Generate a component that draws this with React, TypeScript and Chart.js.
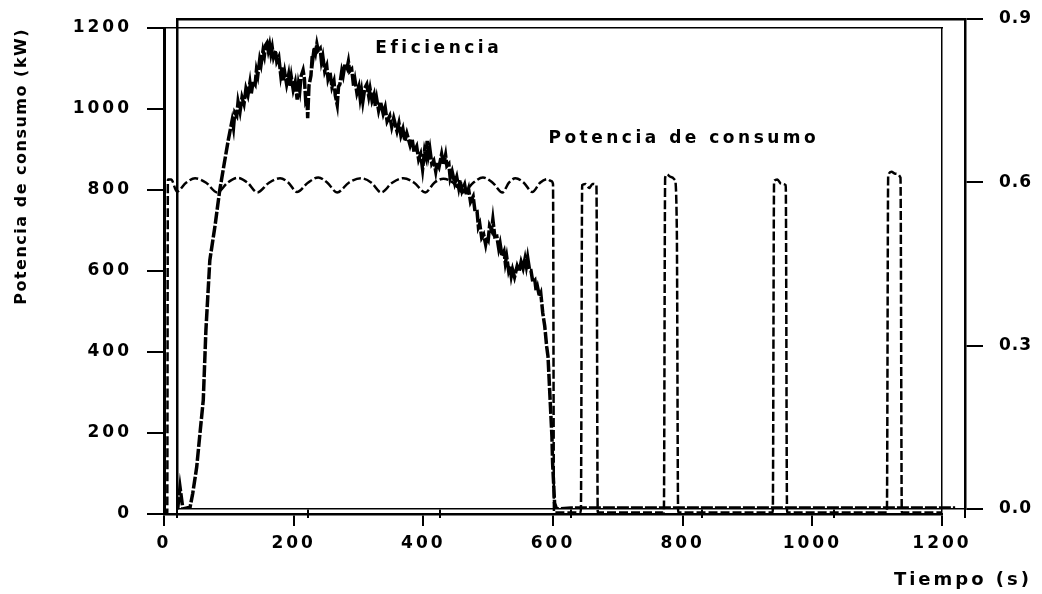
import React, { useEffect, useRef } from 'react';
import { Chart, registerables } from 'chart.js';

Chart.register(...registerables);

// ---------- data ----------
const timeTicks = [0, 200, 400, 600, 800, 1000, 1200];
const powerTicks = [0, 200, 400, 600, 800, 1000, 1200];
const efficiencyTicks = [0, 0.3, 0.6, 0.9];

// Potencia de consumo (kW) vs tiempo (s)
const powerTime = [
  0, 5, 6, 11, 20, 34, 48, 65, 82, 98,
  114, 129, 144, 162, 179, 192, 205, 222, 238, 252,
  267, 285, 304, 320, 335, 352, 369, 386, 403, 417,
  431, 446, 461, 477, 492, 507, 522, 532, 542, 555,
  568, 580, 591, 597, 600, 601.5,
  643, 645, 650, 656, 661, 667, 669,
  771, 773, 776, 781, 788, 791, 793,
  939, 941, 946, 952, 959, 961,
  1115, 1117, 1122, 1128, 1136, 1138,
  1200,
];
const powerValue = [
  0, 0, 826, 826, 796, 818, 829, 818, 794, 818,
  830, 818, 794, 818, 829, 818, 795, 818, 831, 818,
  794, 818, 829, 818, 794, 818, 829, 818, 794, 818,
  828, 818, 794, 818, 831, 818, 794, 818, 829, 818,
  795, 818, 827, 822, 815, 4,
  4, 812, 815, 805, 815, 812, 4,
  4, 830, 838, 833, 825, 700, 4,
  4, 822, 826, 815, 812, 4,
  4, 835, 845, 840, 830, 4,
  4,
];

// Eficiencia vs tiempo (s)
const effTime = [
  1, 4.6, 9, 15, 20, 24, 30, 35, 40, 44,
  50, 58, 65, 72, 78, 84, 86, 88, 91, 93,
  96, 99, 102, 105, 108, 111, 113, 116, 119, 121,
  123, 126, 128, 131, 133, 135, 137, 139, 141, 143,
  145, 147, 150, 152, 155, 158, 160, 162, 164, 167,
  170, 172, 174, 177, 180, 183, 185, 187, 189, 192,
  194, 196, 198, 199, 201, 204, 206, 207, 209, 211,
  213, 215, 218, 220, 222, 225, 228, 230, 233, 236,
  239, 241, 244, 246, 248, 251, 253, 256, 259, 261,
  263, 266, 269, 271, 274, 277, 279, 281, 283, 286,
  289, 292, 294, 297, 300, 302, 304, 307, 310, 314,
  317, 320, 324, 327, 330, 335, 338, 341, 344, 347,
  350, 355, 358, 361, 365, 368, 371, 374, 377, 379,
  381, 383, 385, 388, 391, 394, 396, 399, 403, 406,
  409, 411, 414, 416, 419, 423, 426, 429, 431, 434,
  438, 441, 444, 447, 451, 454, 457, 459, 461, 464,
  467, 470, 472, 474, 476, 479, 481, 484, 487, 490,
  492, 495, 498, 500, 502, 505, 507, 509, 511, 514,
  518, 521, 524, 527, 530, 532, 534, 537, 539, 542,
  545, 547, 549, 552, 554, 557, 560, 563, 565, 568,
  571, 572, 575, 578, 600, 700, 800, 900, 1000, 1100,
  1185,
];
const effValue = [
  0.000, 0.040, 0.000, 0.002, 0.004, 0.029, 0.077, 0.139, 0.200, 0.328,
  0.457, 0.521, 0.585, 0.635, 0.677, 0.714, 0.700, 0.728, 0.722, 0.748,
  0.730, 0.756, 0.744, 0.772, 0.760, 0.783, 0.762, 0.786, 0.780, 0.806,
  0.796, 0.826, 0.816, 0.842, 0.832, 0.852, 0.856, 0.842, 0.853, 0.836,
  0.848, 0.830, 0.842, 0.822, 0.830, 0.797, 0.812, 0.786, 0.802, 0.780,
  0.798, 0.776, 0.794, 0.770, 0.784, 0.752, 0.780, 0.768, 0.795, 0.806,
  0.790, 0.750, 0.756, 0.718, 0.778, 0.796, 0.834, 0.828, 0.848, 0.838,
  0.854, 0.842, 0.846, 0.822, 0.832, 0.804, 0.814, 0.790, 0.802, 0.775,
  0.786, 0.760, 0.742, 0.776, 0.780, 0.805, 0.796, 0.818, 0.810, 0.822,
  0.804, 0.808, 0.776, 0.788, 0.764, 0.776, 0.754, 0.768, 0.748, 0.773,
  0.780, 0.758, 0.772, 0.750, 0.761, 0.740, 0.754, 0.732, 0.748, 0.726,
  0.738, 0.712, 0.722, 0.702, 0.718, 0.694, 0.709, 0.686, 0.698, 0.676,
  0.690, 0.668, 0.680, 0.656, 0.666, 0.642, 0.652, 0.624, 0.658, 0.648,
  0.676, 0.650, 0.662, 0.634, 0.640, 0.620, 0.636, 0.628, 0.652, 0.632,
  0.650, 0.630, 0.634, 0.608, 0.620, 0.598, 0.610, 0.590, 0.604, 0.584,
  0.596, 0.576, 0.588, 0.564, 0.574, 0.545, 0.546, 0.518, 0.524, 0.498,
  0.504, 0.486, 0.500, 0.495, 0.520, 0.512, 0.532, 0.500, 0.501, 0.478,
  0.488, 0.464, 0.473, 0.452, 0.464, 0.438, 0.446, 0.428, 0.440, 0.426,
  0.446, 0.436, 0.454, 0.442, 0.460, 0.446, 0.462, 0.438, 0.438, 0.416,
  0.420, 0.400, 0.408, 0.390, 0.396, 0.360, 0.336, 0.298, 0.280, 0.206,
  0.132, 0.084, 0.011, 0.000, 0.002, 0.002, 0.002, 0.002, 0.002, 0.002,
  0.002,
];

// in-plot labels, anchored in data coordinates (time s, kW)
const seriesLabels = [
  { text: 'Eficiencia', t: 326, kw: 1148 },
  { text: 'Potencia de consumo', t: 593, kw: 926 },
];

// ---------- style ----------
const FONT = "'DejaVu Sans', sans-serif";
const INK = '#000';

// titles are drawn before the datasets, tick labels (z: 1) after them
const spacingPlugin = (titleSpacing: string, tickSpacing: string) => ({
  id: 'letterSpacing',
  beforeDraw(chart: any) {
    chart.ctx.letterSpacing = titleSpacing;
  },
  afterDatasetsDraw(chart: any) {
    chart.ctx.letterSpacing = tickSpacing;
  },
});

const labelPlugin = {
  id: 'seriesLabels',
  afterDraw(chart: any) {
    const { ctx, scales } = chart;
    ctx.save();
    ctx.letterSpacing = '3.5px';
    ctx.font = `bold 17px ${FONT}`;
    ctx.fillStyle = INK;
    ctx.textAlign = 'left';
    ctx.textBaseline = 'middle';
    seriesLabels.forEach((l) => {
      ctx.fillText(l.text, scales.x.getPixelForValue(l.t), scales.y.getPixelForValue(l.kw));
    });
    ctx.restore();
  },
};

const clearPadding = (s: any) => {
  s.paddingTop = 0;
  s.paddingBottom = 0;
  s.paddingLeft = 0;
  s.paddingRight = 0;
};

const hiddenBorderScale = (position: string, size: 'w' | 'h', width: number) => ({
  type: 'linear',
  position,
  display: true,
  min: 0,
  max: 1,
  ticks: { display: false },
  grid: { display: false },
  border: { display: true, color: INK, width },
  afterFit: (s: any) => {
    if (size === 'w') s.width = 0;
    else s.height = 0;
    clearPadding(s);
  },
});

const plainNumber = (v: any) => String(v);

export default function App() {
  const refA = useRef<HTMLCanvasElement>(null);
  const refB = useRef<HTMLCanvasElement>(null);

  useEffect(() => {
    const tickFont = { family: FONT, size: 17, weight: 'bold' as const };

    const chartA = new Chart(refA.current as HTMLCanvasElement, {
      type: 'line',
      data: {
        datasets: [
          {
            label: 'Potencia de consumo',
            data: powerTime.map((t, i) => ({ x: t, y: powerValue[i] })),
            borderColor: INK,
            borderWidth: 2.5,
            borderDash: [9, 3],
            pointRadius: 0,
            cubicInterpolationMode: 'monotone',
            fill: false,
          },
        ],
      },
      options: {
        animation: false,
        responsive: false,
        events: [],
        layout: { padding: { left: 0, top: 28, right: 100, bottom: 0 } },
        plugins: { legend: { display: false }, tooltip: { enabled: false }, title: { display: false } },
        scales: {
          x: {
            type: 'linear',
            position: 'bottom',
            min: 0,
            max: 1200,
            afterBuildTicks: (s: any) => {
              s.ticks = timeTicks.map((v) => ({ value: v }));
            },
            ticks: { font: tickFont, color: INK, padding: 7, autoSkip: false, maxRotation: 0, callback: plainNumber, z: 1 },
            grid: { drawOnChartArea: false, drawTicks: true, tickLength: 12, color: INK, lineWidth: 2 },
            border: { display: true, color: INK, width: 2.5 },
            afterFit: (s: any) => {
              s.height = 80;
              clearPadding(s);
            },
          },
          y: {
            type: 'linear',
            position: 'left',
            min: 0,
            max: 1200,
            afterBuildTicks: (s: any) => {
              s.ticks = powerTicks.map((v) => ({ value: v }));
            },
            ticks: { font: tickFont, color: INK, padding: 15, autoSkip: false, callback: plainNumber, z: 1 },
            grid: { drawOnChartArea: false, drawTicks: true, tickLength: 17, color: INK, lineWidth: 2 },
            border: { display: true, color: INK, width: 3 },
            title: {
              display: true,
              text: 'Potencia de consumo (kW)',
              align: 'end',
              color: INK,
              font: { family: FONT, size: 16, weight: 'bold' },
              padding: { top: 12, bottom: 0 },
            },
            afterFit: (s: any) => {
              s.width = 164;
              clearPadding(s);
            },
          },
          xt: hiddenBorderScale('top', 'h', 1.5) as any,
          yr: hiddenBorderScale('right', 'w', 1.5) as any,
        },
      } as any,
      plugins: [spacingPlugin('1.5px', '3px'), labelPlugin],
    });

    const chartB = new Chart(refB.current as HTMLCanvasElement, {
      type: 'line',
      data: {
        datasets: [
          {
            label: 'Eficiencia',
            data: effTime.map((t, i) => ({ x: t, y: effValue[i] })),
            borderColor: INK,
            borderWidth: 3.5,
            borderDash: [12, 2],
            pointRadius: 0,
            tension: 0,
            fill: false,
          },
        ],
      },
      options: {
        animation: false,
        responsive: false,
        events: [],
        layout: { padding: { left: 177, top: 19, right: 10, bottom: 0 } },
        plugins: {
          legend: { display: false },
          tooltip: { enabled: false },
          title: {
            display: true,
            text: 'Tiempo (s)',
            position: 'bottom',
            align: 'end',
            color: INK,
            font: { family: FONT, size: 18, weight: 'bold' },
            padding: { top: 0, bottom: 3 },
          },
        },
        scales: {
          x: {
            type: 'linear',
            position: 'bottom',
            min: 0,
            max: 1200,
            afterBuildTicks: (s: any) => {
              s.ticks = timeTicks.map((v) => ({ value: v }));
            },
            ticks: { display: false },
            grid: { drawOnChartArea: false, drawTicks: true, tickLength: 9, color: INK, lineWidth: 2 },
            border: { display: true, color: INK, width: 1.5 },
            afterFit: (s: any) => {
              s.height = 60.4;
              clearPadding(s);
            },
          },
          y: {
            type: 'linear',
            position: 'right',
            min: 0,
            max: 0.9,
            afterBuildTicks: (s: any) => {
              s.ticks = efficiencyTicks.map((v) => ({ value: v }));
            },
            ticks: {
              font: tickFont,
              color: INK,
              padding: 16,
              autoSkip: false,
              z: 1,
              callback: (v: any) => Number(v).toFixed(1),
            },
            grid: { drawOnChartArea: false, drawTicks: true, tickLength: 18, color: INK, lineWidth: 2 },
            border: { display: true, color: INK, width: 2.5 },
            afterFit: (s: any) => {
              s.width = 67;
              clearPadding(s);
            },
          },
          xt: hiddenBorderScale('top', 'h', 2.5) as any,
          yl: hiddenBorderScale('left', 'w', 2.5) as any,
        },
      } as any,
      plugins: [spacingPlugin('3px', '1px')],
    });

    return () => {
      chartA.destroy();
      chartB.destroy();
    };
  }, []);

  return (
    <div style={{ position: 'absolute', left: 0, top: 0, width: 1042, height: 594, background: '#fff' }}>
      <canvas ref={refA} width={1042} height={594} style={{ position: 'absolute', left: 0, top: 0 }} />
      <canvas ref={refB} width={1042} height={594} style={{ position: 'absolute', left: 0, top: 0 }} />
    </div>
  );
}
